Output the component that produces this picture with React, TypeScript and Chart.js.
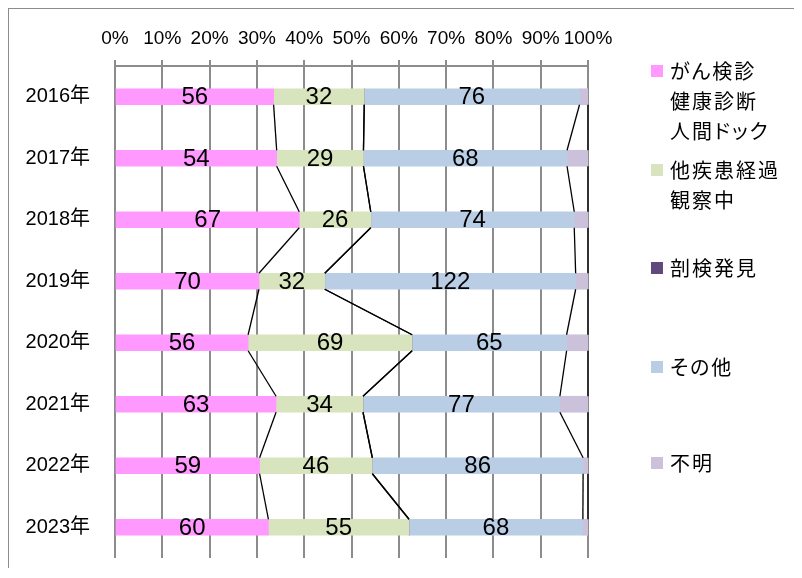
import React, { useEffect, useRef } from "react";
import { Chart, registerables } from "chart.js";

Chart.register(...registerables);

// ---- data ----
const categories = ["2016年", "2017年", "2018年", "2019年", "2020年", "2021年", "2022年", "2023年"];
const seriesNames: string[][] = [
  ["がん検診", "健康診断", "人間ドック"],
  ["他疾患経過", "観察中"],
  ["剖検発見"],
  ["その他"],
  ["不明"],
];
const screening = [56, 54, 67, 70, 56, 63, 59, 60];
const otherDisease = [32, 29, 26, 32, 69, 34, 46, 55];
const autopsy = [0, 0, 0, 0, 0, 0, 0, 0];
const others = [76, 68, 74, 122, 65, 77, 86, 68];
const unknown = [3, 7, 5, 6, 9, 11, 2, 2];
const showValueLabels = [true, true, false, true, false];

// ---- styles ----
const colors = ["#FF99FF", "#D7E4BD", "#604A7B", "#B9CDE5", "#CCC1DA"];
const FONT = '"Liberation Sans", "Noto Sans CJK JP", sans-serif';
const JFONT = '"Noto Sans CJK JP", "Liberation Sans", sans-serif';
const legendTops = [47, 146, 244, 343, 439];

const seriesValues = [screening, otherDisease, autopsy, others, unknown];
const totals = categories.map((_, i) => seriesValues.reduce((s, arr) => s + arr[i], 0));

const seriesLinesPlugin = {
  id: "seriesLines",
  afterDatasetsDraw(chart: any) {
    const ctx = chart.ctx as CanvasRenderingContext2D;
    ctx.save();
    ctx.strokeStyle = "#000";
    ctx.lineWidth = 1.3;
    chart.data.datasets.forEach((_ds: any, d: number) => {
      const meta = chart.getDatasetMeta(d);
      for (let i = 0; i < meta.data.length - 1; i++) {
        const a: any = meta.data[i];
        const b: any = meta.data[i + 1];
        ctx.beginPath();
        ctx.moveTo(a.x, a.y + a.height / 2);
        ctx.lineTo(b.x, b.y - b.height / 2);
        ctx.stroke();
      }
    });
    ctx.fillStyle = "#000";
    ctx.font = "24px " + FONT;
    ctx.textAlign = "center";
    ctx.textBaseline = "middle";
    chart.data.datasets.forEach((ds: any, d: number) => {
      if (!ds.showValues) return;
      const meta = chart.getDatasetMeta(d);
      meta.data.forEach((el: any, i: number) => {
        ctx.fillText(String(ds.rawValues[i]), (el.x + el.base) / 2, el.y + 1);
      });
    });
    ctx.restore();
  },
};

export default function App() {
  const ref = useRef<HTMLCanvasElement>(null);

  useEffect(() => {
    if (!ref.current) return;
    const chart = new Chart(ref.current, {
      type: "bar",
      data: {
        labels: categories,
        datasets: seriesValues.map((vals, d) => ({
          label: seriesNames[d].join(""),
          data: vals.map((v, i) => (v / totals[i]) * 100),
          rawValues: vals,
          showValues: showValueLabels[d],
          backgroundColor: colors[d],
          borderWidth: 0,
          barThickness: 16,
        })) as any,
      },
      options: {
        indexAxis: "y",
        animation: false,
        responsive: true,
        maintainAspectRatio: false,
        layout: { padding: { left: 0, right: 206, top: 10, bottom: 10 } },
        plugins: {
          legend: { display: false },
          tooltip: { enabled: false },
        },
        scales: {
          x: {
            type: "linear",
            position: "top",
            stacked: true,
            min: 0,
            max: 100,
            afterFit: (s: any) => {
              s.height = 47;
            },
            ticks: {
              stepSize: 10,
              autoSkip: false,
              maxRotation: 0,
              padding: 10,
              color: "#000",
              font: { family: FONT, size: 19 },
              callback: (v: any) => v + "%",
            },
            grid: { color: "#8c8c8c", lineWidth: 2, tickLength: 6, drawTicks: true },
            border: { display: true, color: "#8c8c8c", width: 2 },
          },
          y: {
            type: "category",
            stacked: true,
            afterFit: (s: any) => {
              s.width = 106;
            },
            ticks: {
              padding: 0,
              color: "#000",
              font: { family: FONT, size: 20, lineHeight: 1 },
            },
            grid: {
              display: true,
              color: "rgba(0,0,0,0)",
              drawOnChartArea: false,
              drawTicks: true,
              tickLength: 25,
            },
            border: { display: false },
          },
        },
      } as any,
      plugins: [seriesLinesPlugin],
    });
    return () => chart.destroy();
  }, []);

  return (
    <div
      style={{
        position: "relative",
        width: 786,
        height: 560,
        boxSizing: "border-box",
        borderTop: "1px solid #8c8c8c",
        borderLeft: "1px solid #8c8c8c",
      }}
    >
      <div style={{ position: "absolute", left: 0, top: 0, width: 785, height: 559 }}>
        <canvas ref={ref} />
      </div>
      {seriesNames.map((lines, d) => (
        <div
          key={d}
          style={{
            position: "absolute",
            left: 642,
            top: legendTops[d],
            fontFamily: JFONT,
            fontSize: 20,
            lineHeight: "30px",
            letterSpacing: "2px",
            fontFeatureSettings: '"palt"',
            color: "#000",
          }}
        >
          <div
            style={{
              position: "absolute",
              left: 0,
              top: 9,
              width: 12,
              height: 12,
              background: colors[d],
            }}
          />
          <div style={{ marginLeft: 19 }}>
            {lines.map((t, k) => (
              <div key={k} style={{ whiteSpace: "nowrap" }}>
                {t}
              </div>
            ))}
          </div>
        </div>
      ))}
    </div>
  );
}
